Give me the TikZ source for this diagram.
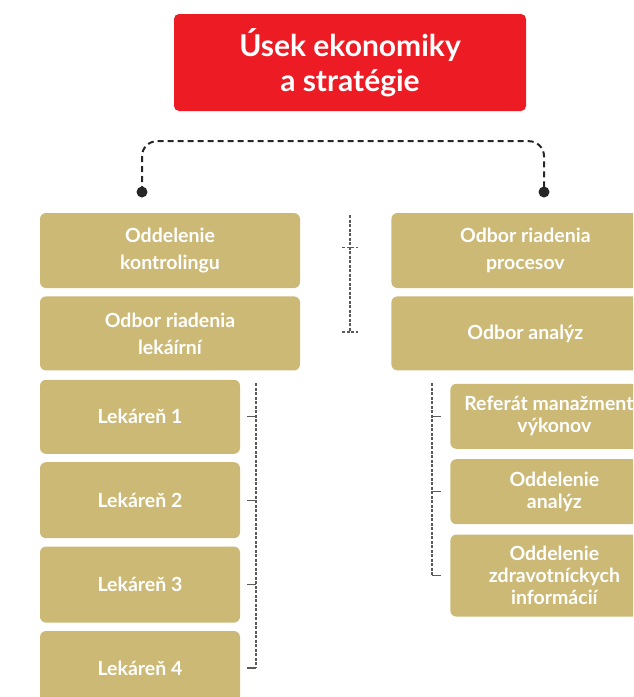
\documentclass[tikz,border=0pt]{standalone}
\usepackage{fontspec}
\setmainfont{Lato}
\usetikzlibrary{positioning}
\definecolor{usekred}{RGB}{237,28,36}
\definecolor{odborgold}{RGB}{204,185,118}
\definecolor{linkgray}{RGB}{90,90,90}
\tikzset{
    %Define style for the title box
    hlava/.style={
           rectangle, rounded corners=5pt,
           fill=usekred, text=white,
           minimum width=352pt, minimum height=97pt,
           align=center,
           font=\bfseries\fontsize{30}{35}\selectfont},
    %Define style for boxes
    odbor/.style={
           rectangle, rounded corners=6pt,
           fill=odborgold, text=white,
           minimum width=260pt, minimum height=75pt,
           align=center,
           font=\bfseries\fontsize{19.5}{27}\selectfont},
    podbor/.style={
           odbor,
           minimum width=208pt,
           font=\bfseries\fontsize{19.5}{22}\selectfont},
    % Define line styles
    zatvorka/.style={
           draw=black!85, line width=2pt,
           dash pattern=on 6pt off 4pt,
           rounded corners=15pt},
    vetva/.style={
           draw=linkgray, line width=1.2pt,
           dash pattern=on 3pt off 1.5pt},
    tik/.style={
           draw=linkgray, line width=1.2pt}
}
\begin{document}
\begin{tikzpicture}[x=1pt, y=-1pt]
\useasboundingbox (0,0) rectangle (633,697);
\clip (0,0) rectangle (633,697);
%Nodes
\node[hlava] (usek) at (350,62.5) {Úsek ekonomiky\\a stratégie};
\node[odbor] (kontr) at (170,250.5) {Oddelenie\\kontrolingu};
\node[odbor, minimum height=74pt] (lekarni) [below=8pt of kontr] {Odbor riadenia\\lekáírní};
\node[odbor, minimum width=200pt, minimum height=74pt] (lek1) [below right=9pt and 0pt of lekarni.south west] {Lekáreň 1};
\node[odbor, minimum width=200pt, minimum height=76pt] (lek2) [below=8pt of lek1] {Lekáreň 2};
\node[odbor, minimum width=200pt, minimum height=76pt] (lek3) [below=8pt of lek2] {Lekáreň 3};
\node[odbor, minimum width=200pt, minimum height=74pt] (lek4) [below=8pt of lek3] {Lekáreň 4};
\node[odbor, minimum width=268pt] (procesov) [right=91pt of kontr] {Odbor riadenia\\procesov};
\node[odbor, minimum width=268pt, minimum height=74pt] (analyz) [below=8pt of procesov] {Odbor analýz};
\node[podbor, minimum height=65pt] (referat) [below left=13pt and 1pt of analyz.south east] {Referát manažmentu\\výkonov};
\node[podbor, minimum height=65pt] (oddanalyz) [below=10pt of referat] {Oddelenie\\analýz};
\node[podbor, minimum height=82pt] (zdrav) [below=10pt of oddanalyz] {Oddelenie\\zdravotníckych\\informácií};
%Lines
\coordinate (lavy) at (142,192);
\coordinate (pravy) at (544,192);
\draw[zatvorka] (lavy) |- ([yshift=-30pt]usek.south) -| (pravy);
\fill[black!85] (lavy) circle (5.5pt) (pravy) circle (5.5pt);
\coordinate (stredh) at (350,215);
\coordinate (stredd) at (350,332);
\draw[vetva] (stredh) -- (stredd);
\draw[vetva] ([xshift=-8pt,yshift=3pt]stredh |- kontr.east) -- ([xshift=8pt,yshift=3pt]stredh |- kontr.east);
\draw[vetva] ([xshift=-8pt]stredd) -- ([xshift=8pt]stredd);
\coordinate (lekvrch) at (256,383);
\draw[vetva] (lekvrch) -- (lekvrch |- lek4.east);
\foreach \n in {lek1,lek2,lek3,lek4}
    \draw[tik] (lekvrch |- \n.east) -- ++(-9,0);
\coordinate (anvrch) at (432,383);
\draw[vetva] (anvrch) -- (anvrch |- zdrav.west);
\foreach \n in {referat,oddanalyz,zdrav}
    \draw[tik] (anvrch |- \n.west) -- ++(9,0);
\end{tikzpicture}
\end{document}
